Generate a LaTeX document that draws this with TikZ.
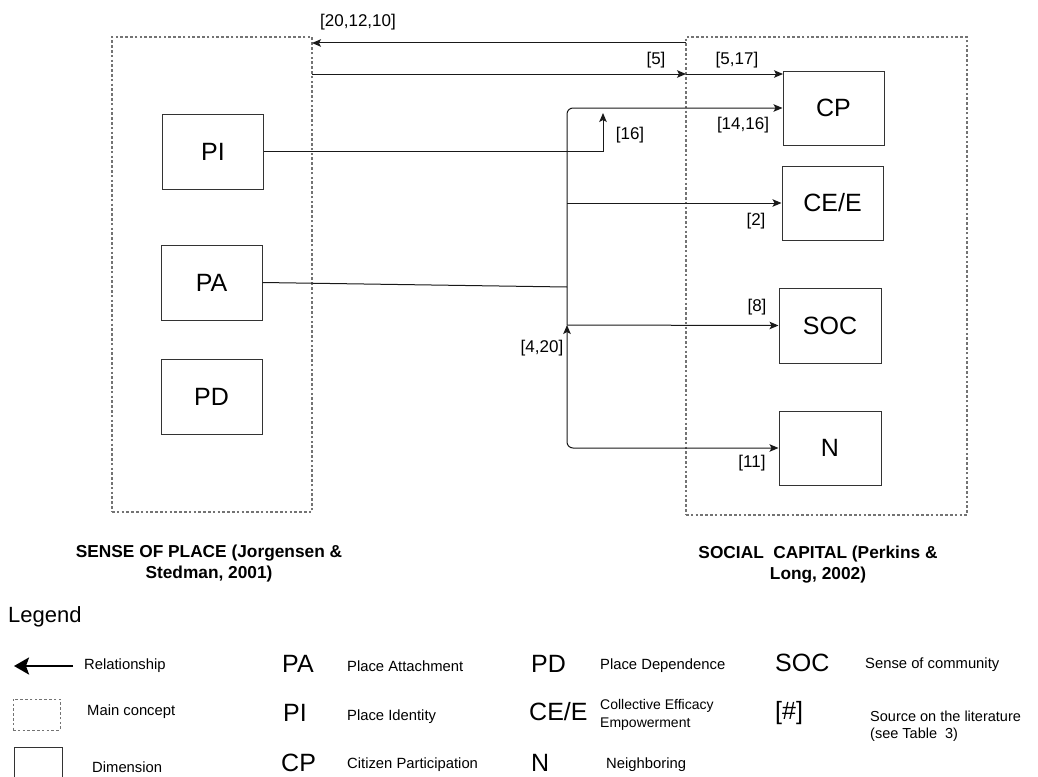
\documentclass[tikz,border=0pt]{standalone}
\usepackage{fontspec}
\setmainfont{Liberation Sans}
\usetikzlibrary{arrows.meta,calc}

\begin{document}
\begin{tikzpicture}[x=1pt,y=-1pt,
  concept/.style={draw=black!55, line width=1.3pt, dash pattern=on 2.6pt off 2.2pt,
    inner sep=0pt, rectangle},
  dimension/.style={draw=black!80, line width=1pt, rectangle, inner sep=0pt,
    font=\fontsize{25}{29}\selectfont},
  rel/.style={draw=black!90, line width=1pt, -{Stealth[length=9pt,width=7.5pt,inset=2pt]}},
  link/.style={draw=black!90, line width=1pt},
  ref/.style={font=\fontsize{17}{20}\selectfont, inner sep=0pt},
  title/.style={font=\bfseries\fontsize{17.3}{21}\selectfont, align=center, inner sep=0pt},
  abbr/.style={font=\fontsize{25}{29}\selectfont, inner sep=0pt, anchor=west},
  desc/.style={font=\fontsize{14.8}{17}\selectfont, inner sep=0pt, anchor=west, align=left},
]
\useasboundingbox (0,0) rectangle (1038,776);

% main concepts
\node[concept, minimum width=200pt, minimum height=475pt] (sp) at (212,274.5) {};
\node[concept, minimum width=281pt, minimum height=478pt] (sc) at (826.5,276) {};

% dimensions of sense of place
\node[dimension, minimum width=101pt, minimum height=75pt] (PI) at (213,151.5) {PI};
\node[dimension, minimum width=101pt, minimum height=75pt] (PA) at (211.5,282.5) {PA};
\node[dimension, minimum width=101pt, minimum height=75pt] (PD) at (211.5,396.5) {PD};

% dimensions of social capital
\node[dimension, minimum width=101pt, minimum height=74pt] (CP) at (833.5,108) {CP};
\node[dimension, minimum width=101pt, minimum height=74pt] (CEE) at (832.5,203) {CE/E};
\node[dimension, minimum width=102pt, minimum height=75pt] (SOC) at (830,325.5) {SOC};
\node[dimension, minimum width=102pt, minimum height=74pt] (N) at (830,448) {N};

% connector anchor points
\coordinate (scTop) at (686,43);
\coordinate (spTop) at (312,43);
\coordinate (spMid) at (312,74);
\coordinate (scMid) at (686,74);
\coordinate (cpTop) at (783,74);
\coordinate (k16) at (603,113);
\coordinate (jPA) at (567,287);
\coordinate (t) at (567,325);

% relationships between the main concepts
\draw[rel] (scTop) -- (spTop);
\draw[rel] (spMid) -- (scMid);
\draw[rel] (scMid) -- (cpTop);

% place identity
\draw[rel] (PI.east) -| (k16);

% place attachment and its trunk
\draw[link] (PA.east) -- (jPA);
\draw[rel, rounded corners=6pt] (t) |- (CP.west);
\draw[rel] (t |- CEE.west) -- (CEE.west);
\draw[rel] (t) -- (SOC.west);
\draw[rel, {Stealth[length=9pt,width=7.5pt,inset=2pt]}-{Stealth[length=9pt,width=7.5pt,inset=2pt]}, rounded corners=6pt] (t) |- (N.west);

% literature references
\node[ref] (r1) at (358,22) {[20,12,10]};
\node[ref] (r2) at (656,60) {[5]};
\node[ref] (r3) at (737,60) {[5,17]};
\node[ref] (r4) at (630,135) {[16]};
\node[ref] (r5) at (743,125) {[14,16]};
\node[ref] (r6) at (756,221) {[2]};
\node[ref] (r7) at (757,307) {[8]};
\node[ref] (r8) at (542,348) {[4,20]};
\node[ref] (r9) at (752,463) {[11]};

% concept titles
\node[title] (tsp) at (209,564) {SENSE OF PLACE (Jorgensen \&\\Stedman, 2001)};
\node[title] (tsc) at (818,565) {SOCIAL\ \ CAPITAL (Perkins \&\\Long, 2002)};

% legend
\node[font=\fontsize{22}{25}\selectfont, inner sep=0pt, anchor=west] (lg) at (8,617) {Legend};

\coordinate (la1) at (73,666);
\coordinate (la2) at (14,666);
\draw[draw=black, line width=2.6pt, -{Stealth[length=15pt,width=17pt,inset=3pt]}] (la1) -- (la2);
\node[desc] (l1) at (84,666) {Relationship};

\node[concept, line width=1pt, minimum width=47pt, minimum height=31pt] (lbox1) at (36.5,714.5) {};
\node[desc] (l2) at (87,712) {Main concept};

\node[dimension, minimum width=48pt, minimum height=40pt] (lbox2) at (38,767) {};
\node[desc] (l3) at (92,767) {Dimension};

\node[abbr] (aPA) at (282,664) {PA};
\node[desc] (dPA) at (347,666) {Place Attachment};
\node[abbr] (aPI) at (283,713) {PI};
\node[desc] (dPI) at (347,717) {Place Identity};
\node[abbr] (aCP) at (281,763) {CP};
\node[desc] (dCP) at (347,765) {Citizen Participation};

\node[abbr] (aPD) at (531,664) {PD};
\node[desc] (dPD) at (600,666) {Place Dependence};
\node[abbr] (aCE) at (529,712) {CE/E};
\node[desc, font=\fontsize{14}{17.5}\selectfont] (dCE) at (600,715) {Collective Efficacy\\Empowerment};
\node[abbr] (aN) at (531,763) {N};
\node[desc] (dN) at (606,765) {Neighboring};

\node[abbr] (aSOC) at (775,663) {SOC};
\node[desc] (dSOC) at (865,665) {Sense of community};
\node[abbr] (aRef) at (775,713) {[\#]};
\node[desc, font=\fontsize{14.5}{17.5}\selectfont] (dRef) at (870,726) {Source on the literature\\(see Table\ \ 3)};
\end{tikzpicture}
\end{document}
